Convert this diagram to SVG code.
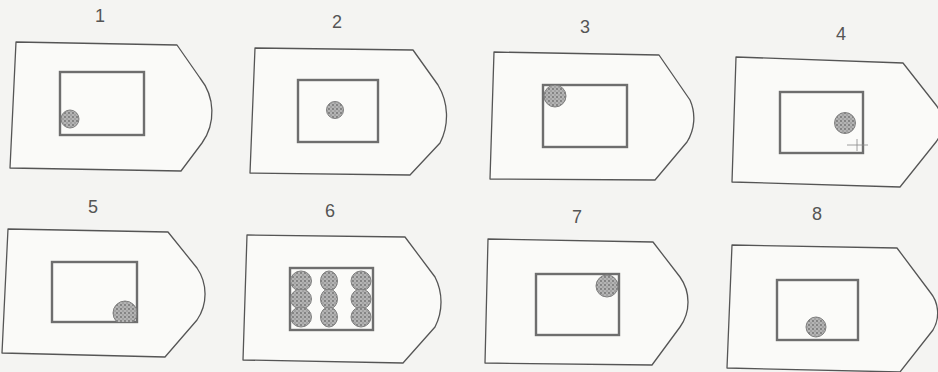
<svg xmlns="http://www.w3.org/2000/svg" width="938" height="372" viewBox="0 0 938 372">
  <style>
    .outer { fill: #fafaf8; stroke: #555; stroke-width: 1.3; stroke-linejoin: round; }
    .inner { fill: #fbfbf9; stroke: #6e6e6e; stroke-width: 2.4; }
    .dot { fill: url(#stip); stroke: #808080; stroke-width: 1; }
    .lbl { font-family: "Liberation Sans", Arial, sans-serif; font-size: 18px; fill: #555; text-anchor: middle; }
    .cross { stroke: #888; stroke-width: 0.8; fill: none; }
  </style>
  <defs>
    <pattern id="stip" width="4" height="4" patternUnits="userSpaceOnUse">
      <rect width="4" height="4" fill="#b4b4b4"/>
      <circle cx="1" cy="1" r="0.9" fill="#6e6e6e"/>
      <circle cx="3" cy="3" r="0.8" fill="#8a8a8a"/>
    </pattern>
    <clipPath id="c1"><rect x="60" y="72" width="84" height="63"/></clipPath>
    <clipPath id="c3"><rect x="543" y="85" width="84" height="62"/></clipPath>
    <clipPath id="c5"><rect x="52" y="262" width="85" height="60"/></clipPath>
    <clipPath id="c7"><rect x="536" y="274" width="83" height="61"/></clipPath>
  </defs>
  <rect width="938" height="372" fill="#f4f4f2"/>

  <g id="panel1">
    <text class="lbl" x="100" y="22">1</text>
    <path class="outer" d="M16 42 L177 45 L200 78 A54 54 0 0 1 202 143 L181 171 L10 168 Z"/>
    <rect class="inner" x="60" y="72" width="84" height="63"/>
    <circle class="dot" cx="70" cy="119" r="9" clip-path="url(#c1)"/>
  </g>

  <g id="panel2">
    <text class="lbl" x="337" y="28">2</text>
    <path class="outer" d="M255 48 L413 50 L438 85 A60 60 0 0 1 440 143 L410 175 L250 173 Z"/>
    <rect class="inner" x="298" y="80" width="80" height="62"/>
    <circle class="dot" cx="335" cy="110" r="8.5"/>
  </g>

  <g id="panel3">
    <text class="lbl" x="585" y="33">3</text>
    <path class="outer" d="M494 52 L659 55 L690 100 A45 45 0 0 1 687 142 L655 180 L490 179 Z"/>
    <rect class="inner" x="543" y="85" width="84" height="62"/>
    <circle class="dot" cx="555" cy="96" r="11" clip-path="url(#c3)"/>
  </g>

  <g id="panel4">
    <text class="lbl" x="841" y="40">4</text>
    <path class="outer" d="M736 57 L903 63 L936 105 A30 30 0 0 1 936 142 L900 187 L732 182 Z"/>
    <rect class="inner" x="780" y="92" width="83" height="61"/>
    <circle class="dot" cx="845" cy="123" r="10.5"/>
    <path class="cross" d="M847 145 H868 M857 139 V151"/>
  </g>

  <g id="panel5">
    <text class="lbl" x="93" y="213">5</text>
    <path class="outer" d="M8 229 L168 232 L197 268 A46 46 0 0 1 197 320 L165 357 L2 353 Z"/>
    <rect class="inner" x="52" y="262" width="85" height="60"/>
    <circle class="dot" cx="125" cy="313" r="12" clip-path="url(#c5)"/>
  </g>

  <g id="panel6">
    <text class="lbl" x="330" y="217">6</text>
    <path class="outer" d="M247 235 L405 237 L435 277 A55 55 0 0 1 435 327 L403 363 L243 360 Z"/>
    <rect class="inner" x="290" y="268" width="83" height="62"/>
    <ellipse class="dot" cx="301" cy="281" rx="10.5" ry="10"/>
    <ellipse class="dot" cx="301" cy="299" rx="10.5" ry="10"/>
    <ellipse class="dot" cx="301" cy="317" rx="10.5" ry="10"/>
    <ellipse class="dot" cx="329" cy="281" rx="8.5" ry="10"/>
    <ellipse class="dot" cx="329" cy="299" rx="8.5" ry="10"/>
    <ellipse class="dot" cx="329" cy="317" rx="8.5" ry="10"/>
    <ellipse class="dot" cx="361" cy="281" rx="10" ry="10"/>
    <ellipse class="dot" cx="361" cy="299" rx="10" ry="10"/>
    <ellipse class="dot" cx="361" cy="317" rx="10" ry="10"/>
  </g>

  <g id="panel7">
    <text class="lbl" x="577" y="223">7</text>
    <path class="outer" d="M488 239 L653 242 L680 277 A43 43 0 0 1 680 327 L652 365 L485 363 Z"/>
    <rect class="inner" x="536" y="274" width="83" height="61"/>
    <circle class="dot" cx="607" cy="286" r="11" clip-path="url(#c7)"/>
  </g>

  <g id="panel8">
    <text class="lbl" x="817" y="220">8</text>
    <path class="outer" d="M732 245 L897 248 L930 292 A33 33 0 0 1 933 330 L900 372 L727 368 Z"/>
    <rect class="inner" x="777" y="280" width="81" height="60"/>
    <circle class="dot" cx="816" cy="327" r="10"/>
  </g>

  <g id="connectors"></g>
</svg>
